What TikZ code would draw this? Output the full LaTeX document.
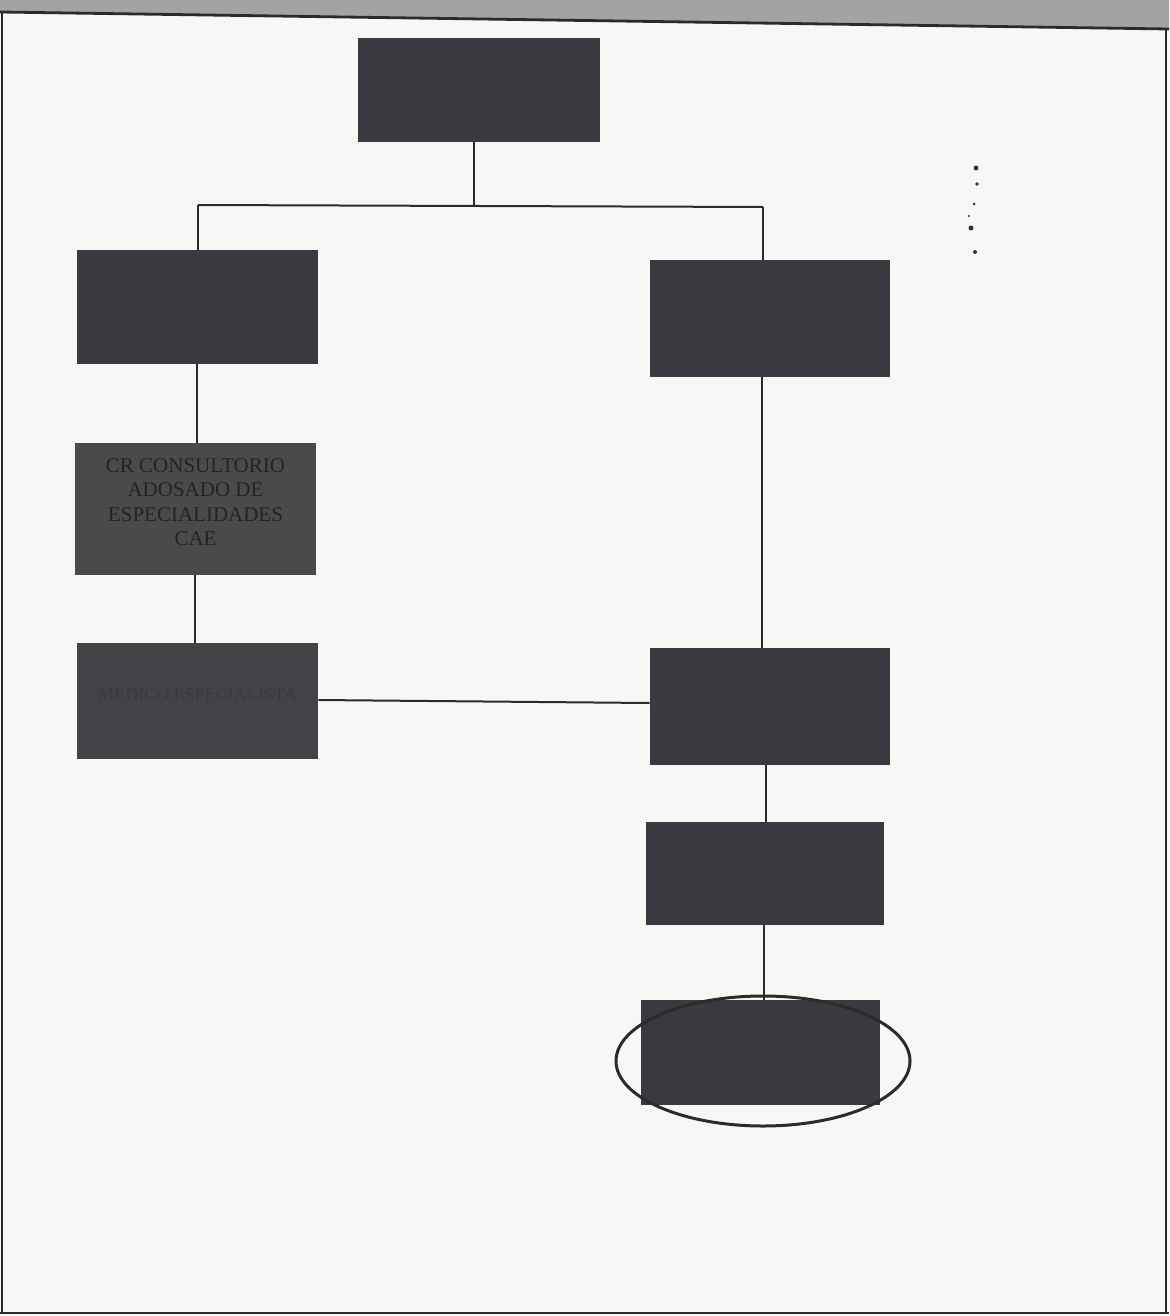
\documentclass[tikz,border=0pt]{standalone}
\usepackage{fontspec}
\setmainfont{Liberation Serif}
\usetikzlibrary{fit,shapes.geometric}
\definecolor{paper}{HTML}{F7F7F6}
\definecolor{band}{HTML}{A3A3A3}
\definecolor{boxc}{HTML}{3A393F}
\definecolor{boxlight}{HTML}{4A4A4D}
\definecolor{boxmid}{HTML}{434246}
\definecolor{inkc}{HTML}{232323}
\definecolor{linec}{HTML}{2B2B2B}
\tikzset{
  box/.style={fill=boxc, draw=none, inner sep=0pt, align=center, font=\fontsize{10.5}{12.2}\selectfont, text=inkc},
  link/.style={draw=linec, line width=1pt},
  frame/.style={draw=linec, line width=1.1pt},
  ring/.style={ellipse, draw=linec, line width=1.5pt, inner sep=0pt, minimum width=147pt, minimum height=65pt},
  speck/.style={fill=black!80, draw=none, circle, inner sep=0pt}
}
\begin{document}
\begin{tikzpicture}[x=0.5pt,y=-0.5pt]
\useasboundingbox (0,0) rectangle (1169,1316);
\fill[paper] (0,0) rectangle (1169,1316);
% scanned top band
\fill[band] (0,0) -- (1169,0) -- (1169,29) -- (0,12) -- cycle;
\draw[frame, line width=1.4pt] (0,12) -- (1169,29);
\draw[frame] (2,12) -- (2,1313);
\draw[frame] (1166,29) -- (1166,1313);
\draw[frame, line width=1.4pt] (0,1313) -- (1169,1313);

% boxes
\node[box, fit={(358,38) (600,142)}] (top) {};
\node[box, fit={(77,250) (318,364)}] (l1) {};
\node[box, fit={(650,260) (890,377)}] (r1) {};
\node[box, fill=boxlight, fit={(75,443) (316,575)}] (l2) {CR CONSULTORIO\\ADOSADO DE\\ESPECIALIDADES\\CAE};
\node[box, fill=boxmid, fit={(77,643) (318,759)}] (l3) {\fontsize{9}{11}\selectfont\textcolor{boxc}{MEDICO ESPECIALISTA}};
\node[box, fit={(650,648) (890,765)}] (r2) {};
\node[box, fit={(646,822) (884,925)}] (r3) {};
\node[box, fit={(641,1000) (880,1105)}] (r4) {};
\node[ring] (ring) at (763,1061) {};

% connectors
\coordinate (jt) at (474,206);
\coordinate (jl) at (198,205);
\coordinate (jr) at (763,207);
\draw[link] (top.south -| jt) -- (jt);
\draw[link] (jl) -- (jr);
\draw[link] (jl) -- (l1.north -| jl);
\draw[link] (jr) -- (r1.north -| jr);
\draw[link] (l1.south -| 197,0) -- (l2.north -| 197,0);
\draw[link] (l2.south -| 195,0) -- (l3.north -| 195,0);
\draw[link] (r1.south -| 762,0) -- (r2.north -| 762,0);
\draw[link] (l3.east |- 0,700) -- (r2.west |- 0,703);
\draw[link] (r2.south -| 766,0) -- (r3.north -| 766,0);
\draw[link] (r3.south -| 764,0) -- (r4.north -| 764,0);

% scan specks
\node[speck, minimum size=2.5pt] (s1) at (976,168) {};
\node[speck, minimum size=1.8pt] (s2) at (977,184) {};
\node[speck, minimum size=1.5pt] (s3) at (974,204) {};
\node[speck, minimum size=1.2pt] (s4) at (969,216) {};
\node[speck, minimum size=2.5pt] (s5) at (971,228) {};
\node[speck, minimum size=2pt] (s6) at (975,252) {};
\end{tikzpicture}
\end{document}
